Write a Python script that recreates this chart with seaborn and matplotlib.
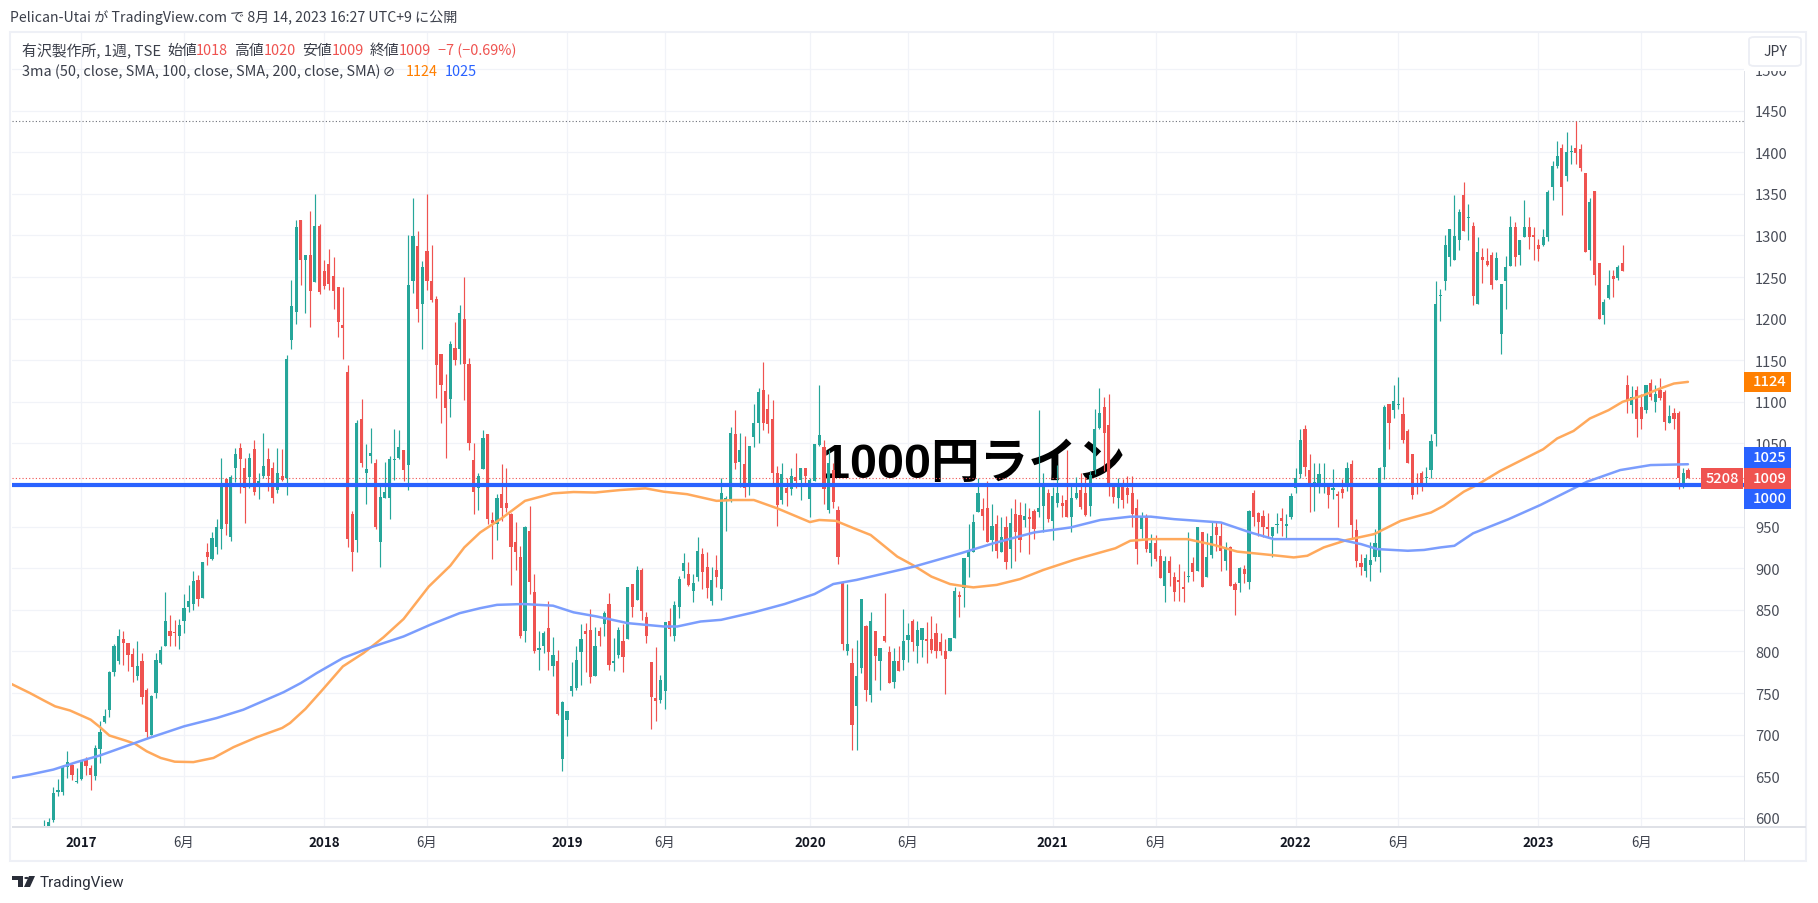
import numpy as np
import pandas as pd
import matplotlib
matplotlib.use("Agg")
import matplotlib.pyplot as plt
from matplotlib.patches import Rectangle, Polygon, Circle, FancyBboxPatch
import seaborn as sns

# weekly candles, week 0 is the first week of 2017
first_week = -8

opens = [
    570, 585, 598, 631, 631, 661, 664, 643, 647, 669,
    660, 650, 683, 715, 730, 775, 789, 815, 810, 797,
    771, 789, 754, 700, 750, 786, 807, 825, 823, 818,
    836, 853, 857, 886, 864, 919, 911, 925, 947, 1007,
    937, 1020, 1045, 1021, 1010, 1043, 999, 1011, 1031, 1021,
    994, 1011, 1008, 1174, 1208, 1318, 1270, 1277, 1244, 1311,
    1257, 1266, 1251, 1238, 1192, 1136, 965, 934, 1079, 1014,
    1035, 1027, 932, 985, 984, 1030, 1033, 1042, 1024, 1245,
    1287, 1217, 1281, 1245, 1223, 1157, 1113, 1104, 1165, 1164,
    1200, 1146, 1030, 996, 1019, 1061, 958, 953, 989, 979,
    965, 932, 913, 825, 945, 871, 802, 807, 828, 783,
    789, 671, 718, 753, 756, 799, 824, 826, 771, 825,
    833, 857, 786, 796, 813, 815, 881, 862, 898, 841,
    787, 744, 742, 752, 836, 818, 853, 897, 893, 873,
    889, 917, 902, 861, 898, 875, 981, 983, 1061, 1028,
    1025, 1002, 1058, 1075, 1114, 1091, 1079, 1015, 982, 997,
    995, 1010, 1006, 1021, 983, 1005, 1048, 1046, 970, 1018,
    970, 884, 800, 786, 734, 780, 830, 748, 824, 789,
    819, 799, 763, 789, 790, 814, 837, 806, 814, 815,
    815, 822, 811, 801, 800, 816, 868, 876, 913, 920,
    968, 971, 972, 934, 953, 920, 950, 923, 965, 964,
    958, 962, 969, 968, 975, 990, 957, 979, 979, 982,
    961, 984, 994, 990, 975, 1018, 1068, 1094, 1072, 1001,
    985, 1001, 996, 990, 973, 947, 961, 918, 930, 915,
    879, 909, 889, 886, 878, 889, 906, 897, 943, 889,
    916, 949, 939, 909, 925, 881, 882, 899, 883, 990,
    966, 963, 949, 939, 952, 960, 951, 961, 997, 1013,
    1067, 1018, 998, 998, 998, 998, 994, 989, 995, 999,
    1025, 946, 906, 897, 904, 914, 914, 1022, 1097, 1090,
    1096, 1085, 1065, 1037, 1002, 1014, 1008, 1018, 1061, 1227,
    1245, 1274, 1270, 1294, 1348, 1321, 1311, 1217, 1274, 1269,
    1277, 1247, 1182, 1245, 1263, 1310, 1276, 1298, 1310, 1300,
    1289, 1289, 1298, 1358, 1383, 1405, 1371, 1400, 1405, 1404,
    1375, 1282, 1353, 1267, 1204, 1225, 1251, 1249, 1267, 1120,
    1096, 1114, 1094, 1090, 1123, 1100, 1114, 1112, 1075, 1086, 1086, 1003, 1018,
]
highs = [
    597, 600, 637, 647, 663, 680, 665, 660, 670, 673,
    664, 688, 717, 731, 777, 809, 827, 825, 810, 804,
    813, 798, 756, 748, 798, 806, 871, 844, 838, 839,
    869, 880, 897, 892, 908, 930, 944, 959, 1033, 1009,
    1012, 1045, 1050, 1032, 1038, 1054, 1014, 1063, 1044, 1028,
    1045, 1043, 1156, 1246, 1318, 1319, 1277, 1329, 1350, 1314,
    1270, 1284, 1274, 1238, 1238, 1144, 969, 1078, 1104, 1049,
    1068, 1031, 1002, 1028, 1035, 1067, 1066, 1042, 1301, 1345,
    1305, 1269, 1350, 1288, 1227, 1157, 1133, 1173, 1196, 1216,
    1250, 1153, 1050, 1015, 1066, 1061, 967, 989, 1025, 1020,
    966, 956, 927, 951, 975, 893, 824, 825, 861, 817,
    802, 740, 728, 787, 806, 833, 834, 851, 829, 829,
    849, 870, 816, 829, 833, 877, 881, 903, 900, 848,
    787, 805, 772, 835, 852, 861, 891, 918, 908, 893,
    938, 924, 920, 902, 916, 1009, 987, 1070, 1090, 1062,
    1059, 1047, 1097, 1117, 1148, 1109, 1102, 1023, 1027, 1008,
    1020, 1038, 1021, 1021, 1009, 1049, 1120, 1054, 1042, 1027,
    975, 884, 881, 804, 814, 863, 832, 847, 824, 804,
    870, 806, 804, 806, 851, 834, 839, 837, 828, 835,
    842, 834, 822, 815, 816, 878, 873, 912, 953, 965,
    1009, 984, 1005, 977, 964, 961, 963, 973, 983, 980,
    978, 972, 971, 1090, 1015, 995, 998, 1024, 988, 1042,
    999, 1010, 1015, 1010, 1017, 1091, 1117, 1106, 1110, 1003,
    1008, 1007, 1011, 1011, 983, 967, 965, 941, 940, 923,
    915, 915, 895, 905, 897, 943, 914, 949, 943, 942,
    955, 955, 954, 931, 927, 884, 901, 904, 970, 994,
    967, 970, 966, 949, 966, 972, 965, 991, 1021, 1067,
    1072, 1037, 1027, 1027, 1026, 1001, 1019, 993, 1007, 1028,
    1030, 959, 917, 917, 931, 947, 1022, 1096, 1097, 1120,
    1130, 1106, 1067, 1037, 1015, 1017, 1022, 1061, 1245, 1236,
    1300, 1308, 1349, 1332, 1364, 1338, 1316, 1298, 1285, 1285,
    1280, 1280, 1242, 1275, 1323, 1316, 1295, 1343, 1322, 1310,
    1296, 1308, 1355, 1390, 1414, 1410, 1424, 1409, 1438, 1410,
    1375, 1345, 1354, 1267, 1223, 1259, 1259, 1265, 1289, 1132,
    1119, 1119, 1110, 1120, 1127, 1120, 1129, 1114, 1096, 1092, 1089, 1021, 1020,
]
lows = [
    560, 575, 595, 626, 628, 648, 645, 642, 646, 652,
    633, 646, 666, 714, 721, 771, 785, 784, 777, 763,
    766, 737, 696, 700, 744, 785, 807, 807, 807, 803,
    822, 848, 850, 855, 864, 904, 910, 917, 923, 940,
    933, 1004, 990, 954, 996, 988, 983, 1009, 993, 979,
    990, 1005, 988, 1164, 1194, 1240, 1207, 1190, 1244, 1230,
    1236, 1234, 1211, 1178, 1152, 926, 897, 920, 1022, 977,
    1026, 947, 902, 985, 959, 1006, 1031, 1005, 994, 1231,
    1196, 1164, 1234, 1220, 1105, 1074, 1032, 1082, 1144, 1145,
    1102, 1042, 965, 970, 1019, 953, 911, 934, 957, 967,
    880, 898, 816, 811, 869, 798, 778, 798, 778, 770,
    724, 656, 698, 746, 754, 760, 775, 762, 770, 806,
    819, 778, 776, 792, 775, 815, 841, 862, 838, 810,
    707, 717, 738, 731, 818, 812, 840, 888, 879, 860,
    885, 875, 864, 856, 878, 862, 945, 980, 1019, 998,
    986, 988, 1046, 1051, 1066, 1062, 1001, 951, 977, 975,
    988, 997, 982, 1000, 961, 1005, 1047, 977, 966, 973,
    905, 802, 796, 681, 681, 774, 740, 739, 766, 754,
    811, 762, 756, 776, 778, 787, 801, 786, 793, 786,
    798, 792, 796, 749, 800, 816, 841, 853, 889, 919,
    967, 946, 931, 921, 912, 920, 899, 900, 909, 920,
    949, 917, 935, 961, 944, 956, 934, 974, 961, 961,
    943, 983, 971, 963, 963, 1013, 1067, 1017, 987, 979,
    972, 973, 978, 949, 905, 936, 920, 903, 909, 888,
    859, 879, 861, 861, 860, 883, 885, 897, 878, 889,
    912, 921, 897, 898, 879, 844, 872, 882, 875, 951,
    939, 938, 937, 914, 942, 939, 935, 959, 990, 1009,
    1011, 967, 969, 990, 990, 972, 983, 950, 984, 993,
    935, 902, 892, 890, 885, 909, 896, 1007, 1043, 1080,
    1091, 1051, 1027, 983, 989, 993, 1001, 1009, 1047, 1197,
    1234, 1263, 1270, 1282, 1305, 1294, 1216, 1217, 1243, 1263,
    1236, 1247, 1157, 1212, 1263, 1263, 1265, 1298, 1284, 1271,
    1269, 1287, 1293, 1343, 1381, 1325, 1365, 1386, 1386, 1378,
    1280, 1271, 1241, 1199, 1194, 1224, 1226, 1247, 1257, 1086,
    1086, 1058, 1067, 1086, 1102, 1088, 1102, 1066, 1075, 1067, 995, 997, 1009,
]
closes = [
    585, 595, 630, 633, 661, 667, 652, 644, 669, 662,
    652, 684, 703, 722, 775, 806, 819, 810, 796, 781,
    783, 745, 703, 746, 790, 802, 837, 819, 822, 832,
    852, 861, 885, 863, 908, 913, 936, 950, 1003, 953,
    1010, 1037, 1031, 996, 1032, 992, 1005, 1023, 1011, 984,
    1015, 1006, 1152, 1215, 1310, 1270, 1277, 1233, 1311, 1232,
    1239, 1242, 1233, 1196, 1189, 935, 919, 1074, 1026, 1019,
    1038, 949, 986, 992, 1031, 1031, 1046, 1018, 1240, 1299,
    1211, 1262, 1245, 1222, 1144, 1120, 1093, 1169, 1150, 1207,
    1145, 1050, 992, 1011, 1056, 959, 954, 985, 973, 972,
    925, 919, 819, 949, 883, 800, 804, 822, 799, 796,
    725, 739, 728, 759, 790, 815, 821, 769, 807, 819,
    846, 784, 789, 826, 793, 877, 854, 898, 849, 819,
    745, 741, 766, 835, 827, 856, 887, 906, 880, 882,
    921, 896, 876, 886, 889, 991, 984, 1062, 1026, 1042,
    997, 1047, 1075, 1112, 1075, 1073, 1014, 976, 1013, 991,
    1011, 1005, 1021, 1011, 1006, 1049, 1060, 995, 1027, 980,
    913, 809, 809, 712, 771, 863, 754, 837, 794, 804,
    813, 762, 789, 777, 812, 820, 811, 826, 828, 813,
    802, 800, 800, 791, 816, 873, 866, 912, 921, 955,
    990, 963, 932, 951, 921, 938, 908, 954, 943, 934,
    963, 959, 947, 972, 1002, 959, 987, 990, 975, 961,
    985, 991, 974, 964, 1012, 1067, 1086, 1062, 1000, 986,
    1001, 982, 988, 965, 923, 961, 923, 930, 911, 888,
    909, 894, 872, 884, 875, 891, 896, 949, 878, 914,
    939, 940, 921, 926, 879, 874, 900, 893, 969, 962,
    955, 949, 947, 949, 953, 957, 953, 987, 1008, 1054,
    1022, 1001, 1004, 1013, 1002, 988, 996, 987, 990, 1020,
    952, 909, 902, 912, 910, 930, 1021, 1094, 1075, 1101,
    1097, 1054, 1027, 988, 998, 999, 1009, 1053, 1217, 1228,
    1288, 1308, 1299, 1328, 1305, 1322, 1227, 1280, 1271, 1265,
    1241, 1273, 1242, 1262, 1310, 1274, 1295, 1310, 1298, 1298,
    1284, 1298, 1352, 1384, 1395, 1358, 1400, 1401, 1399, 1381,
    1280, 1340, 1253, 1200, 1220, 1241, 1248, 1262, 1257, 1102,
    1106, 1079, 1079, 1120, 1106, 1110, 1105, 1076, 1083, 1079, 1008, 1015, 1009,
]

orange_weeks = [-15, -11, -8, -5.6, -2.4, 2, 4, 6, 9.4, 11.5, 14, 17, 20, 24, 28.3, 32.6, 37.6, 43, 44.7,
                48, 51.5, 56, 60.4, 64.7, 69, 74.4, 79, 82, 85.4, 90, 95, 101, 105.4, 110, 115.4, 120.8,
                124.7, 129.7, 136, 139.7, 144, 149, 156, 158, 161.5, 165.4, 169, 174.7, 178.3, 182, 186,
                188.3, 191, 196, 201, 206, 212.5, 221.4, 224.6, 229, 236.8, 242.5, 247.5, 254.6, 259.6,
                262.5, 266, 271, 276.8, 282.5, 289, 291.7, 296, 298.8, 303.8, 313, 316, 319.5, 323, 327,
                330, 334.5, 338, 341, 344]
orange_vals = [761, 750, 741, 734, 729, 718, 709, 699, 693, 689, 680, 672, 667.5, 667, 672, 685, 697, 708, 714,
               731, 753, 782, 798, 817, 839, 878, 903, 925, 943, 960, 981, 990, 991.6, 991, 994, 996,
               992, 989, 981, 982, 982, 972, 955.5, 958, 957, 948, 940, 914, 903, 890, 881,
               879, 877, 880, 887, 898, 910, 924, 933, 935, 935, 928, 920, 916, 913,
               915, 925, 934, 941, 957, 967, 975, 992, 1000, 1017, 1043, 1056, 1065, 1080, 1090,
               1100, 1108, 1116, 1122, 1124]
blue_weeks = [-15, -11, -6, -1, 4, 9, 14, 22, 29, 34.7, 43.3, 47, 50.4, 56, 62, 69, 74.7, 81, 85.4, 89, 94.7,
              101, 105.4, 110.4, 117, 124.7, 127.6, 132.6, 137, 144, 150.6, 157, 161, 166, 178.3, 188.3,
              195.3, 204, 211.8, 218.2, 224.6, 229, 234, 244, 250.3, 255.3, 269, 274, 277.5, 284, 287.5,
              291, 294, 298, 305.6, 312.4, 322.4, 329.5, 336, 344]
blue_vals = [648, 652, 658, 667, 675, 685, 695, 710, 720, 730, 751, 762, 774, 792, 805, 818, 832, 846, 852, 856, 857,
             855, 847, 842, 834, 830, 830, 836, 838, 847, 857, 869, 881, 886, 902, 918,
             930, 943, 949, 958, 962, 962, 959, 955, 943, 935, 935, 929, 923, 921, 922,
             925, 927, 942, 959, 976, 1004, 1018, 1024, 1025]

# axis ticks
price_ticks = list(range(600, 1501, 50))
time_ticks = [0, 22, 52, 74, 104, 125, 156, 177, 208, 230, 260, 282, 312, 334]
time_labels = ["2017", "6月", "2018", "6月", "2019", "6月", "2020", "6月", "2021", "6月", "2022", "6月", "2023", "6月"]

UP = "#26a69a"
DOWN = "#ef5350"
LINE_BLUE = "#2962ff"
GRID = "#f1f3f8"
W, H = 1818, 904


def fx(x):
    return x / W


def fy(y):
    return 1 - y / H


def fig_box(fig, x0, y0, x1, y1, **kw):
    # rectangle given in image pixels
    fig.add_artist(Rectangle((fx(x0), fy(y1)), (x1 - x0) / W, (y1 - y0) / H, transform=fig.transFigure, **kw))


def fig_text(fig, x, y, s, **kw):
    kw.setdefault("va", "center")
    kw.setdefault("fontsize", 10.4)
    kw.setdefault("color", "#3b3f4a")
    kw.setdefault("zorder", 7)
    fig.text(fx(x), fy(y), s, **kw)


def main():
    sns.set_theme(style="white")
    plt.rcParams["font.family"] = ["Noto Sans CJK JP", "DejaVu Sans"]

    df = pd.DataFrame({"open": opens, "high": highs, "low": lows, "close": closes})
    df["week"] = np.arange(first_week, first_week + len(df))
    df["color"] = np.where(df["close"] >= df["open"], UP, DOWN)
    df["body_low"] = df[["open", "close"]].min(axis=1)
    df["body_h"] = (df["close"] - df["open"]).abs().clip(lower=1.2)

    fig = plt.figure(figsize=(W / 100, H / 100), dpi=100, facecolor="white")
    ax = fig.add_axes([fx(12), fy(828), (1744 - 12) / W, (828 - 33) / H])
    ax.set_xlim(-14.84, 356.0)
    ax.set_ylim(589.0, 1544.5)
    ax.set_facecolor("white")
    ax.set_axisbelow(True)
    ax.grid(True, color=GRID, linewidth=0.9)

    # big annotation sits under the candles
    ax.text(0.4682, 1025, "1000円ライン", transform=ax.get_yaxis_transform(), ha="left", va="center", fontsize=35,
            fontweight="bold", color="black", family=["Liberation Sans", "Noto Sans CJK JP"], zorder=1.5)

    ax.vlines(df["week"], df["low"], df["high"], colors=df["color"], linewidth=0.85, zorder=2)
    ax.bar(df["week"], df["body_h"], bottom=df["body_low"], width=0.68, color=df["color"], linewidth=0, zorder=2.2)

    sns.lineplot(x=orange_weeks, y=orange_vals, ax=ax, color="#ffa95c", linewidth=1.8, legend=False, zorder=3)
    sns.lineplot(x=blue_weeks, y=blue_vals, ax=ax, color="#7b9dfd", linewidth=1.8, legend=False, zorder=3)

    # price lines
    ax.axhline(1000, color=LINE_BLUE, linewidth=3.0, zorder=4)
    ax.axhline(1438, color="#6d7078", linewidth=0.8, linestyle=(0, (1, 2)), zorder=1.8)
    ax.axhline(closes[-1], color=DOWN, linewidth=0.8, linestyle=(0, (1, 2)), zorder=1.8)

    ax.set_yticks(price_ticks)
    ax.set_xticks(time_ticks)
    ax.set_xticklabels(time_labels)
    ax.yaxis.tick_right()
    ax.tick_params(axis="y", length=0, pad=8, labelsize=10.6, labelcolor="#4a4e59")
    ax.tick_params(axis="x", length=0, pad=6, labelsize=9.6, labelcolor="#3b3f4a")
    for lab, txt in zip(ax.get_xticklabels(), time_labels):
        if txt.isdigit():
            lab.set_fontweight("bold")
            lab.set_color("#131722")
    for spine in ax.spines.values():
        spine.set_visible(False)

    # chart frame and axis separators
    fig_box(fig, 10, 33, 1806, 862, fill=False, edgecolor="#eef0f6", linewidth=1.5, zorder=5)
    fig_box(fig, 12, 827, 1806, 829, facecolor="#dfe1e7", linewidth=0, zorder=5)
    fig_box(fig, 1743.5, 72, 1745, 862, facecolor="#e2e4ea", linewidth=0, zorder=5)
    # the top of the price scale is masked, so the 1500 label is cut off
    fig_box(fig, 1745, 34, 1805, 72, facecolor="white", linewidth=0, zorder=5)

    # price labels on the right axis
    for top, bottom, colour, value in [(373, 393, "#ff7f00", "1124"), (448, 469, LINE_BLUE, "1025"),
                                       (469, 490, DOWN, "1009"), (490, 510, LINE_BLUE, "1000")]:
        fig_box(fig, 1744, top, 1791, bottom, facecolor=colour, linewidth=0, zorder=6)
        fig_text(fig, 1770, (top + bottom) / 2 - 0.5, value, color="white", ha="center", fontsize=10.6, fontweight="medium")
    fig_box(fig, 1701, 469, 1743, 490, facecolor=DOWN, linewidth=0, zorder=6)
    fig_text(fig, 1722, 479, "5208", color="white", ha="center", fontsize=10.6, fontweight="medium")

    # JPY button
    fig.add_artist(FancyBboxPatch((fx(1749), fy(67)), 52 / W, 29 / H, boxstyle="round,pad=0,rounding_size=0.003",
                                  transform=fig.transFigure, facecolor="white", edgecolor="#eceef4", linewidth=1.3, zorder=6))
    fig_text(fig, 1775, 52, "JPY", ha="center", fontsize=10.2)

    # header and legend lines
    fig_text(fig, 10, 18, "Pelican-Utai が TradingView.com で 8月 14, 2023 16:27 UTC+9 に公開", fontsize=10.2)
    fig_text(fig, 22, 51, "有沢製作所, 1週, TSE", fontsize=10.7)
    for x, s in [(167, "始値"), (234, "高値"), (302, "安値"), (370, "終値")]:
        fig_text(fig, x, 51, s, fontsize=10.7)
    for x, s in [(196, "1018"), (264, "1020"), (332, "1009"), (399, "1009"), (438, "−7 (−0.69%)")]:
        fig_text(fig, x, 51, s, fontsize=10.4, color=DOWN)
    fig_text(fig, 22, 72, "3ma (50, close, SMA, 100, close, SMA, 200, close, SMA)", fontsize=10.4)
    fig_text(fig, 383, 72, "⊘", fontsize=10.4, family=["DejaVu Sans"])
    fig_text(fig, 406, 72, "1124", fontsize=10.4, color="#ff7f00")
    fig_text(fig, 445, 72, "1025", fontsize=10.4, color=LINE_BLUE)

    # TradingView logo and name
    logo = "#2a2e39"
    fig_box(fig, 12, 877, 23, 881, facecolor=logo, linewidth=0, zorder=6)
    fig_box(fig, 17.5, 877, 23, 888, facecolor=logo, linewidth=0, zorder=6)
    fig.add_artist(Circle((fx(26.5), fy(879)), 2.2 / W, transform=fig.transFigure, facecolor=logo, linewidth=0, zorder=6))
    fig.add_artist(Polygon([(fx(x), fy(y)) for x, y in [(29, 877), (35, 877), (30, 888), (24, 888)]],
                           transform=fig.transFigure, facecolor=logo, linewidth=0, zorder=6))
    fig_text(fig, 40, 883, "TradingView", fontsize=11, family=["Roboto"], color="#2a2e39")

    fig.savefig("out.png", dpi=100, facecolor="white")
    plt.close(fig)


if __name__ == "__main__":
    main()
